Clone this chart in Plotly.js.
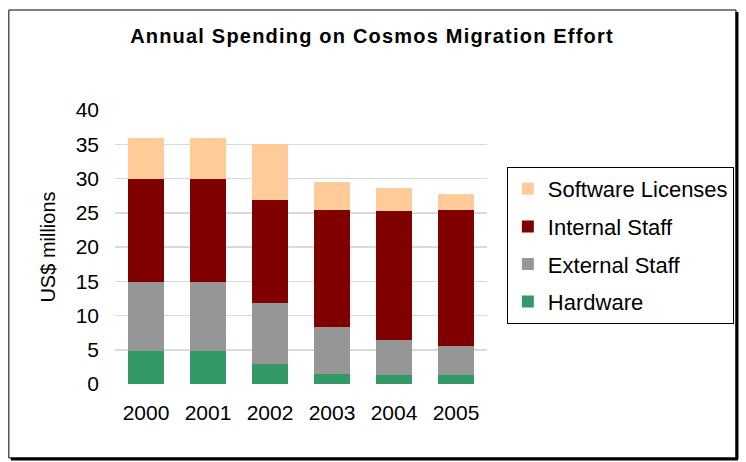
<!DOCTYPE html>
<html>
<head>
<meta charset="utf-8">
<script src="https://cdn.plot.ly/plotly-3.0.1.min.js"></script>
<style>html,body{margin:0;padding:0;background:#fff;}#chart{width:746px;height:462px;}
#chart .gtitle{letter-spacing:1.2px;}</style>
</head>
<body>
<div id="chart"></div>
<script>
const years = ["2000", "2001", "2002", "2003", "2004", "2005"];
const hardware = [4.8, 4.8, 2.9, 1.4, 1.3, 1.3];
const externalStaff = [10.1, 10.1, 8.9, 6.9, 5.1, 4.2];
const internalStaff = [15.1, 15.1, 15.0, 17.1, 18.8, 19.9];
const softwareLicenses = [5.9, 5.9, 8.2, 4.1, 3.4, 2.3];
const seriesNames = ["Hardware", "External Staff", "Internal Staff", "Software Licenses"];
const seriesColors = ["#339966", "#969696", "#800000", "#FFCC99"];
const seriesValues = [hardware, externalStaff, internalStaff, softwareLicenses];
const yTicks = [0, 5, 10, 15, 20, 25, 30, 35, 40];

const font = "Liberation Sans, Arial, sans-serif";
const traces = seriesNames.map((n, i) => ({
  type: "bar", name: n, x: years, y: seriesValues[i],
  marker: {color: seriesColors[i], line: {width: 0}},
  legendgroup: "g" + i, legendrank: 100 - i, hoverinfo: "skip"
}));

const W = 746, H = 462, L = 115, R = 490, T = 110, B = 384;
const px = v => (v - L) / (R - L);
const py = v => (B - v) / (B - T);

const layout = {
  width: W, height: H,
  margin: {l: L, r: W - R, t: T, b: H - B, pad: 0},
  paper_bgcolor: "#fff", plot_bgcolor: "#fff",
  font: {family: font, size: 21, color: "#000"},
  barmode: "stack", bargap: 0.41,
  title: {text: "<b>Annual Spending on Cosmos Migration Effort</b>", font: {family: font, size: 20, color: "#000"},
          x: 372 / W, xref: "container", xanchor: "center", y: 1 - 36 / H, yref: "container", yanchor: "middle"},
  xaxis: {type: "category", showgrid: false, showline: false, zeroline: false, ticks: "",
          tickfont: {size: 21}, ticklabelstandoff: 14, fixedrange: true},
  yaxis: {range: [0, 40], tickvals: yTicks, ticktext: yTicks.map(String), showgrid: true, gridcolor: "#d9d9d9", gridwidth: 1.5,
          zeroline: false, showline: false, ticks: "", tickfont: {size: 21}, ticklabelstandoff: 15,
          title: {text: "US$ millions", font: {size: 20}, standoff: 14}, fixedrange: true},
  legend: {x: px(510), y: py(167), xanchor: "left", yanchor: "top", traceorder: "grouped",
           tracegroupgap: 6, bordercolor: "#000", borderwidth: 1, bgcolor: "#fff",
           font: {size: 22}},
  shapes: [
    {type: "rect", xref: "paper", yref: "paper", x0: px(8), x1: px(741), y0: py(458), y1: py(10), line: {color: "#000", width: 1}},
    {type: "line", xref: "paper", yref: "paper", x0: px(742), x1: px(742), y0: py(459), y1: py(12), line: {color: "#000", width: 3}},
    {type: "line", xref: "paper", yref: "paper", x0: px(10), x1: px(743), y0: py(459), y1: py(459), line: {color: "#000", width: 3}}
  ],
  showlegend: true
};
Plotly.newPlot("chart", traces, layout, {displayModeBar: false, staticPlot: true});
</script>
</body>
</html>
